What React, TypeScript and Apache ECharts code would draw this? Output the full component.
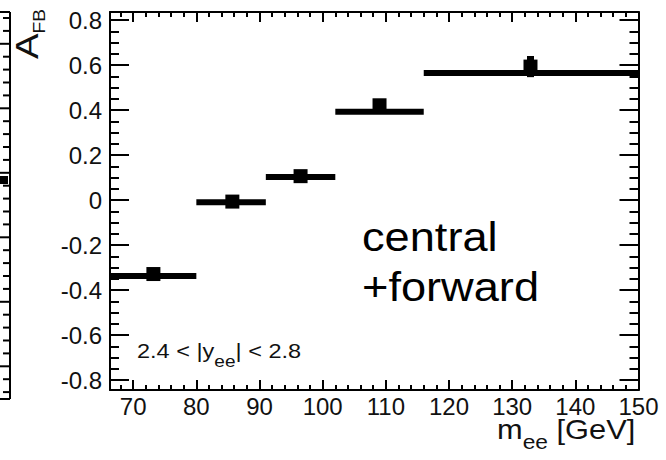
import React, { useEffect, useRef } from 'react';
import * as echarts from 'echarts';

// ---- data ----
const binLow = [66, 80, 91, 102, 116];
const binHigh = [80, 91, 102, 116, 150];
const predicted = [-0.338, -0.01, 0.102, 0.392, 0.564];
const dataX = [73.2, 85.7, 96.5, 109.0, 132.9];
const dataY = [-0.329, -0.007, 0.106, 0.421, 0.593];
const dataErr = [0.02, 0.02, 0.02, 0.025, 0.047];

const xMajor = [70, 80, 90, 100, 110, 120, 130, 140, 150];
const xMinor = [68, 72, 74, 76, 78, 82, 84, 86, 88, 92, 94, 96, 98, 102, 104, 106, 108, 112, 114, 116, 118, 122, 124, 126, 128, 132, 134, 136, 138, 142, 144, 146, 148];
const yMajor = [-0.8, -0.6, -0.4, -0.2, 0, 0.2, 0.4, 0.6, 0.8];
const yLabels = ['-0.8', '-0.6', '-0.4', '-0.2', '0', '0.2', '0.4', '0.6', '0.8'];
const yMinor = [-0.75, -0.7, -0.65, -0.55, -0.5, -0.45, -0.35, -0.3, -0.25, -0.15, -0.1, -0.05, 0.05, 0.1, 0.15, 0.25, 0.3, 0.35, 0.45, 0.5, 0.55, 0.65, 0.7, 0.75];

const X_MIN = 66.33;
const X_MAX = 150;
const Y_MIN = -0.8444;
const Y_MAX = 0.8356;

const FONT = '"Liberation Sans", Arial, Helvetica, sans-serif';
const INK = '#111';

function xAxis(position: string, ticks: number[], len: number, showLine: boolean, labels: boolean) {
  return {
    type: 'value',
    position,
    min: X_MIN,
    max: X_MAX,
    axisLine: { show: showLine, onZero: false, lineStyle: { color: '#000', width: 2 } },
    axisTick: { show: true, inside: true, length: len, customValues: ticks, lineStyle: { color: '#000', width: 2 } },
    axisLabel: labels
      ? { show: true, customValues: xMajor, margin: 4, fontFamily: FONT, fontSize: 24, color: INK, formatter: (v: number) => String(v) }
      : { show: false },
    splitLine: { show: false },
  };
}

function yAxis(position: string, ticks: number[], len: number, showLine: boolean, labels: boolean) {
  return {
    type: 'value',
    position,
    min: Y_MIN,
    max: Y_MAX,
    axisLine: { show: showLine, onZero: false, lineStyle: { color: '#000', width: 2 } },
    axisTick: { show: true, inside: true, length: len, customValues: ticks, lineStyle: { color: '#000', width: 2 } },
    axisLabel: labels
      ? {
          show: true,
          customValues: yMajor,
          margin: 8,
          fontFamily: FONT,
          fontSize: 24,
          color: INK,
          formatter: (v: number) => {
            const i = yMajor.findIndex((t) => Math.abs(t - v) < 1e-9);
            return i >= 0 ? yLabels[i] : '';
          },
        }
      : { show: false },
    splitLine: { show: false },
  };
}

export default function App() {
  const ref = useRef<HTMLDivElement>(null);

  useEffect(() => {
    document.body.style.margin = '0';
    const chart = echarts.init(ref.current!, null, { renderer: 'svg' });

    const histData = binLow.map((lo, i) => [lo, binHigh[i], predicted[i]]);
    const pointData = dataX.map((x, i) => [x, dataY[i], dataErr[i]]);

    // decorative neighbouring panel (cut off at the left edge)
    const leftPanel: any[] = [
      { type: 'line', shape: { x1: 10, y1: 12, x2: 10, y2: 399 }, style: { stroke: '#000', lineWidth: 2 } },
      { type: 'line', shape: { x1: 0, y1: 12, x2: 10, y2: 12 }, style: { stroke: '#000', lineWidth: 2 } },
      { type: 'line', shape: { x1: 0, y1: 399, x2: 10, y2: 399 }, style: { stroke: '#000', lineWidth: 2 } },
    ];
    for (let k = 0; 18 + k * 12.9 < 396; k++) {
      const y = 18 + k * 12.9;
      const long = k % 5 === 2;
      leftPanel.push({
        type: 'line',
        shape: { x1: long ? 0 : 3, y1: y, x2: 10, y2: y },
        style: { stroke: '#000', lineWidth: 2 },
      });
    }
    leftPanel.push({ type: 'rect', shape: { x: 0, y: 176, width: 8, height: 8 }, style: { fill: '#000' } });

    const option: any = {
      animation: false,
      backgroundColor: '#fff',
      grid: { left: 110, right: 27.5, top: 12, bottom: 70, containLabel: false },
      xAxis: [
        xAxis('bottom', xMajor, 10, true, true),
        xAxis('bottom', xMinor, 5, false, false),
        xAxis('top', xMajor, 10, true, false),
        xAxis('top', xMinor, 5, false, false),
      ],
      yAxis: [
        yAxis('left', yMajor, 19, true, true),
        yAxis('left', yMinor, 9, false, false),
        yAxis('right', yMajor, 19, true, false),
        yAxis('right', yMinor, 9, false, false),
      ],
      series: [
        {
          type: 'custom',
          name: 'prediction',
          xAxisIndex: 0,
          yAxisIndex: 0,
          clip: true,
          encode: { x: [0, 1], y: 2 },
          data: histData,
          renderItem: (_p: any, api: any) => {
            const a = api.coord([api.value(0), api.value(2)]);
            const b = api.coord([api.value(1), api.value(2)]);
            return {
              type: 'rect',
              shape: { x: a[0], y: a[1] - 3, width: b[0] - a[0], height: 6 },
              style: { fill: '#000' },
            };
          },
        },
        {
          type: 'custom',
          name: 'data',
          xAxisIndex: 0,
          yAxisIndex: 0,
          clip: true,
          encode: { x: 0, y: 1 },
          data: pointData,
          renderItem: (_p: any, api: any) => {
            const x = api.value(0);
            const y = api.value(1);
            const e = api.value(2);
            const c = api.coord([x, y]);
            const top = api.coord([x, y + e]);
            const bot = api.coord([x, y - e]);
            return {
              type: 'group',
              children: [
                { type: 'rect', shape: { x: c[0] - 3.5, y: top[1], width: 7, height: bot[1] - top[1] }, style: { fill: '#000' } },
                { type: 'rect', shape: { x: c[0] - 7, y: c[1] - 7, width: 14, height: 14 }, style: { fill: '#000' } },
              ],
            };
          },
        },
      ],
      graphic: [
        ...leftPanel,
        {
          type: 'text',
          x: 362,
          y: 237,
          scaleX: 1.13,
          style: { text: 'central', font: `40px ${FONT}`, fill: '#000', textAlign: 'left', textVerticalAlign: 'middle' },
        },
        {
          type: 'text',
          x: 362,
          y: 287,
          scaleX: 1.13,
          style: { text: '+forward', font: `40px ${FONT}`, fill: '#000', textAlign: 'left', textVerticalAlign: 'middle' },
        },
        {
          type: 'text',
          x: 137,
          y: 345.7,
          scaleX: 1.12,
          style: {
            text: '{m|2.4 < |y}{s|ee}{m|| < 2.8}',
            textAlign: 'left',
            textVerticalAlign: 'top',
            fill: INK,
            rich: {
              m: { fontFamily: FONT, fontSize: 21, lineHeight: 24, padding: [0, 0, 8.4, 0], verticalAlign: 'bottom', fill: INK },
              s: { fontFamily: FONT, fontSize: 17, lineHeight: 18, verticalAlign: 'bottom', fill: INK },
            },
          },
        },
        {
          type: 'text',
          x: 497,
          y: 422.6,
          scaleX: 1.14,
          style: {
            text: '{m|m}{s|ee}{m| [GeV]}',
            textAlign: 'left',
            textVerticalAlign: 'top',
            fill: INK,
            rich: {
              m: { fontFamily: FONT, fontSize: 27, lineHeight: 30, padding: [0, 0, 9.4, 0], verticalAlign: 'bottom', fill: INK },
              s: { fontFamily: FONT, fontSize: 20, lineHeight: 22, verticalAlign: 'bottom', fill: INK },
            },
          },
        },
        {
          type: 'text',
          x: 13.9,
          y: 59,
          rotation: Math.PI / 2,
          scaleX: 1.2,
          style: {
            text: '{m|A}{s|FB}',
            textAlign: 'left',
            textVerticalAlign: 'top',
            fill: INK,
            rich: {
              m: { fontFamily: FONT, fontSize: 32, lineHeight: 34, padding: [0, 0, 5.6, 0], verticalAlign: 'bottom', fill: INK },
              s: { fontFamily: FONT, fontSize: 16, lineHeight: 18, verticalAlign: 'bottom', fill: INK },
            },
          },
        },
      ],
    };

    chart.setOption(option);
    return () => chart.dispose();
  }, []);

  return (
    <div
      ref={ref}
      style={{ position: 'fixed', left: 0, top: 0, width: 666, height: 460, background: '#fff' }}
    />
  );
}
